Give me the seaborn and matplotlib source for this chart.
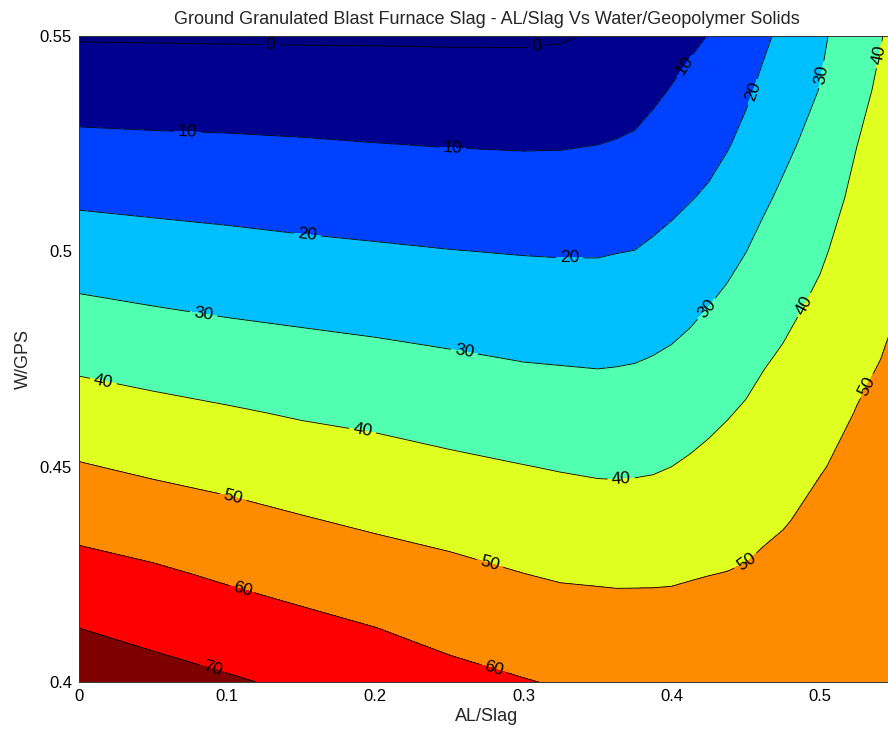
import numpy as np
import matplotlib
matplotlib.use("Agg")
import matplotlib.pyplot as plt
import seaborn as sns

# ---------------- data ----------------
x_values = [0.0, 0.05, 0.10, 0.15, 0.20, 0.25, 0.30, 0.325, 0.35, 0.3625,
            0.375, 0.3875, 0.40, 0.4125, 0.425, 0.4375, 0.45, 0.4625,
            0.475, 0.50, 0.525, 0.55]
# rows from top (W/GPS = 0.55) to bottom (W/GPS = 0.40)
y_values = [0.55, 0.5375, 0.525, 0.5125, 0.50, 0.4875, 0.475, 0.4625,
            0.45, 0.4375, 0.425, 0.4125, 0.40]

z_x0000 = [-0.7, 5.6, 12.0, 18.5, 24.9, 31.4, 38.0, 44.3, 50.6, 57.0, 63.5, 70.0, 76.5]
z_x0500 = [-0.8, 5.4, 11.5, 17.7, 23.8, 29.9, 36.3, 42.5, 48.5, 54.9, 61.4, 67.4, 73.5]
z_x1000 = [-0.9, 5.1, 11.2, 17.0, 22.8, 28.6, 34.7, 40.9, 46.8, 52.8, 58.8, 64.9, 71.0]
z_x1500 = [-1.0, 4.9, 10.7, 16.2, 21.8, 27.6, 33.4, 39.2, 44.9, 50.6, 56.5, 62.4, 68.4]
z_x2000 = [-1.0, 4.5, 10.1, 15.5, 21.0, 26.6, 32.3, 38.0, 43.4, 48.6, 54.3, 60.1, 66.0]
z_x2500 = [-1.1, 4.2, 9.6, 14.9, 20.2, 25.6, 31.0, 36.4, 41.7, 47.0, 52.2, 57.4, 62.6]
z_x3000 = [-1.1, 4.1, 9.3, 14.4, 19.6, 24.6, 29.7, 35.0, 40.2, 45.2, 50.1, 55.3, 60.4]
z_x3250 = [-0.75, 4.3, 9.4, 14.4, 19.4, 24.4, 29.4, 34.4, 39.5, 44.4, 49.2, 54.3, 59.4]
z_x3500 = [0.8, 5.3, 9.9, 14.6, 19.4, 24.3, 29.1, 34.0, 38.9, 43.9, 48.9, 53.8, 58.7]
z_x3625 = [1.5, 5.9, 10.4, 15.1, 19.8, 24.5, 29.3, 34.1, 38.8, 43.8, 48.7, 53.7, 58.5]
z_x3750 = [2.2, 6.7, 11.1, 15.6, 20.1, 24.8, 29.6, 34.5, 39.0, 43.8, 48.8, 53.5, 58.2]
z_x3875 = [4.3, 8.5, 12.7, 16.9, 21.2, 25.8, 30.3, 34.8, 39.3, 44.0, 48.8, 53.6, 58.1]
z_x4000 = [6.4, 10.4, 14.3, 18.2, 22.4, 26.8, 31.2, 35.6, 40.0, 44.5, 49.0, 53.5, 58.0]
z_x4125 = [8.5, 12.2, 15.9, 19.6, 23.9, 28.2, 32.5, 36.8, 41.0, 45.3, 49.5, 53.6, 57.6]
z_x4250 = [10.2, 13.6, 17.3, 21.1, 25.5, 29.9, 34.0, 38.1, 42.1, 45.9, 49.9, 53.6, 57.4]
z_x4375 = [13.2, 16.3, 19.4, 23.4, 27.6, 31.7, 35.6, 39.5, 43.1, 46.7, 50.2, 53.8, 57.3]
z_x4500 = [16.0, 18.7, 22.1, 26.0, 29.9, 33.6, 37.3, 40.9, 44.2, 47.4, 50.7, 54.0, 57.2]
z_x4625 = [18.7, 21.9, 25.4, 28.9, 32.4, 35.9, 39.4, 42.5, 45.5, 48.6, 51.6, 54.4, 57.1]
z_x4750 = [21.8, 25.0, 28.1, 31.3, 34.5, 37.8, 40.9, 43.7, 46.6, 49.5, 52.3, 54.8, 57.0]
z_x5000 = [28.5, 30.2, 33.0, 35.9, 38.8, 41.6, 44.3, 46.9, 49.6, 51.8, 53.5, 55.5, 57.0]
z_x5250 = [35.3, 37.6, 39.9, 42.0, 44.1, 46.1, 48.2, 50.3, 51.8, 53.5, 55.0, 56.0, 56.8]
z_x5500 = [42.0, 43.5, 45.0, 46.5, 48.1, 49.6, 51.0, 52.2, 53.3, 54.3, 55.3, 56.2, 57.0]

fill_levels = [-10, 0, 10, 20, 30, 40, 50, 60, 70, 80]
line_levels = [0, 10, 20, 30, 40, 50, 60, 70]
fill_colors = ["#000082", "#00008F", "#0040FF", "#00BFFF", "#50FFAF",
               "#DFFF20", "#FF8C00", "#FF0000", "#7F0000"]

x_ticks = [0.0, 0.1, 0.2, 0.3, 0.4, 0.5]
x_tick_labels = ["0", "0.1", "0.2", "0.3", "0.4", "0.5"]
y_ticks = [0.40, 0.45, 0.50, 0.55]
y_tick_labels = ["0.4", "0.45", "0.5", "0.55"]

title = "Ground Granulated Blast Furnace Slag - AL/Slag Vs Water/Geopolymer Solids"
x_label = "AL/Slag"
y_label = "W/GPS"

# approximate places of the in-line contour labels
label_spots = [(0.129, 0.5474), (0.309, 0.5467),
               (0.073, 0.5270), (0.252, 0.5231), (0.411, 0.5426),
               (0.154, 0.5038), (0.331, 0.4973), (0.455, 0.5370),
               (0.084, 0.4854), (0.260, 0.4766), (0.426, 0.4859), (0.503, 0.5409),
               (0.016, 0.4692), (0.191, 0.4578), (0.366, 0.4464), (0.492, 0.4871),
               (0.540, 0.5456),
               (0.104, 0.4430), (0.277, 0.4272), (0.451, 0.4276), (0.530, 0.4690),
               (0.110, 0.4214), (0.279, 0.4023),
               (0.090, 0.4028)]

# ---------------- drawing ----------------
sns.set_theme(style="white")
plt.rcParams["font.family"] = ["Liberation Sans", "DejaVu Sans"]

Z = np.column_stack([z_x0000, z_x0500, z_x1000, z_x1500, z_x2000, z_x2500,
                     z_x3000, z_x3250, z_x3500, z_x3625, z_x3750, z_x3875,
                     z_x4000, z_x4125, z_x4250, z_x4375, z_x4500, z_x4625,
                     z_x4750, z_x5000, z_x5250, z_x5500])
X, Y = np.meshgrid(np.array(x_values), np.array(y_values))
Z = np.flipud(Z)
X = np.flipud(X)
Y = np.flipud(Y)

fig = plt.figure(figsize=(8.88, 7.34), dpi=100)
ax = fig.add_axes([79 / 888, 52 / 734, 815 / 888, 646 / 734])

ax.contourf(X, Y, Z, levels=fill_levels, colors=fill_colors)
cs = ax.contour(X, Y, Z, levels=line_levels, colors="black", linewidths=0.6)
ax.clabel(cs, fmt="%d", fontsize=12.5, manual=label_spots, inline=True,
          inline_spacing=4, colors="black")

ax.set_xlim(0, 0.55)
ax.set_ylim(0.40, 0.55)
ax.set_xticks(x_ticks)
ax.set_xticklabels(x_tick_labels)
ax.set_yticks(y_ticks)
ax.set_yticklabels(y_tick_labels)
ax.tick_params(direction="in", length=5, width=0.6, top=True, right=True,
               labelsize=12, pad=5, colors="#222222", labelcolor="black")
for s in ax.spines.values():
    s.set_color("#333333")
    s.set_linewidth(0.7)

ax.set_title(title, fontsize=13, pad=9)
ax.set_xlabel(x_label, fontsize=13, labelpad=3)
ax.set_ylabel(y_label, fontsize=13, labelpad=6)

fig.savefig("out.png", dpi=100)
